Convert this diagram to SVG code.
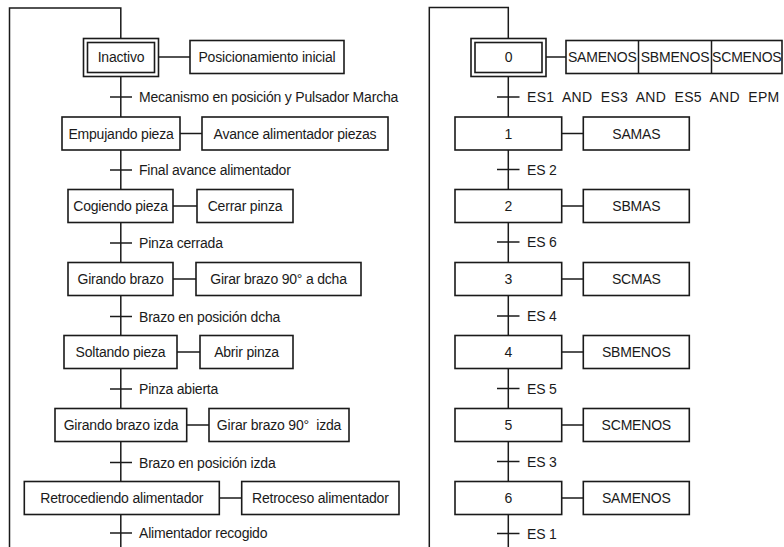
<svg xmlns="http://www.w3.org/2000/svg" width="784" height="547" viewBox="0 0 784 547">
  <style>
    .box { fill: #fff; stroke: #1a1a1a; stroke-width: 1.6; }
    .ln { fill: none; stroke: #1a1a1a; stroke-width: 1.5; }
    text { font-family: "Liberation Sans", Arial, sans-serif; font-size: 14px; fill: #1a1a1a; letter-spacing: -0.2px; }
    .c { text-anchor: middle; }
  </style>
  <rect width="784" height="547" fill="#fff"/>

  <!-- connectors: step chains, loop-backs, action links and transitions -->
  <g id="connectors">
    <!-- left chart -->
    <polyline class="ln" points="9.5,547 9.5,8 120.8,8 120.8,38.5"/>
    <line class="ln" x1="120.8" y1="76.5" x2="120.8" y2="547"/>
    <line class="ln" x1="158.5" y1="57" x2="190" y2="57"/>
    <line class="ln" x1="180" y1="133.5" x2="202" y2="133.5"/>
    <line class="ln" x1="173" y1="206" x2="197" y2="206"/>
    <line class="ln" x1="173" y1="279" x2="196" y2="279"/>
    <line class="ln" x1="177" y1="352" x2="200" y2="352"/>
    <line class="ln" x1="186.7" y1="425" x2="209" y2="425"/>
    <line class="ln" x1="219.3" y1="498" x2="241.7" y2="498"/>
    <line class="ln" x1="110" y1="97" x2="132" y2="97"/>
    <line class="ln" x1="110" y1="170" x2="132" y2="170"/>
    <line class="ln" x1="110" y1="243" x2="132" y2="243"/>
    <line class="ln" x1="110" y1="316.5" x2="132" y2="316.5"/>
    <line class="ln" x1="110" y1="389" x2="132" y2="389"/>
    <line class="ln" x1="110" y1="462.5" x2="132" y2="462.5"/>
    <line class="ln" x1="110" y1="533" x2="132" y2="533"/>
    <!-- right chart -->
    <polyline class="ln" points="429.3,547 429.3,7.5 508.3,7.5 508.3,38.5"/>
    <line class="ln" x1="508.3" y1="76.5" x2="508.3" y2="547"/>
    <line class="ln" x1="546" y1="57" x2="566" y2="57"/>
    <line class="ln" x1="561.7" y1="133.5" x2="583.3" y2="133.5"/>
    <line class="ln" x1="561.7" y1="206" x2="583.3" y2="206"/>
    <line class="ln" x1="561.7" y1="279" x2="583.3" y2="279"/>
    <line class="ln" x1="561.7" y1="352" x2="583.3" y2="352"/>
    <line class="ln" x1="561.7" y1="425" x2="583.3" y2="425"/>
    <line class="ln" x1="561.7" y1="498" x2="583.3" y2="498"/>
    <line class="ln" x1="497" y1="97" x2="519.5" y2="97"/>
    <line class="ln" x1="497" y1="169.5" x2="519.5" y2="169.5"/>
    <line class="ln" x1="497" y1="242" x2="519.5" y2="242"/>
    <line class="ln" x1="497" y1="316" x2="519.5" y2="316"/>
    <line class="ln" x1="497" y1="388.5" x2="519.5" y2="388.5"/>
    <line class="ln" x1="497" y1="461.5" x2="519.5" y2="461.5"/>
    <line class="ln" x1="497" y1="533.5" x2="519.5" y2="533.5"/>
  </g>

  <!-- transition conditions -->
  <g id="transitions">
    <text x="139" y="102">Mecanismo en posición y Pulsador Marcha</text>
    <text x="139" y="175">Final avance alimentador</text>
    <text x="139" y="248">Pinza cerrada</text>
    <text x="139" y="321.5">Brazo en posición dcha</text>
    <text x="139" y="394">Pinza abierta</text>
    <text x="139" y="467.5">Brazo en posición izda</text>
    <text x="139" y="538">Alimentador recogido</text>
    <text x="527" y="102" xml:space="preserve" textLength="252" lengthAdjust="spacing">ES1  AND  ES3  AND  ES5  AND  EPM</text>
    <text x="527" y="174.5">ES 2</text>
    <text x="527" y="247">ES 6</text>
    <text x="527" y="321">ES 4</text>
    <text x="527" y="393.5">ES 5</text>
    <text x="527" y="466.5">ES 3</text>
    <text x="527" y="538.5">ES 1</text>
  </g>

  <!-- left chart: steps -->
  <g id="step-inactivo">
    <rect class="box" x="83.5" y="38.5" width="75" height="38"/>
    <rect class="box" x="87.5" y="42.5" width="67" height="30"/>
    <text class="c" x="121" y="62">Inactivo</text>
  </g>
  <g id="step-empujando">
    <rect class="box" x="62" y="117" width="118" height="33"/>
    <text class="c" x="121" y="138.5">Empujando pieza</text>
  </g>
  <g id="step-cogiendo">
    <rect class="box" x="68" y="189.5" width="105" height="33"/>
    <text class="c" x="120.5" y="211">Cogiendo pieza</text>
  </g>
  <g id="step-girando">
    <rect class="box" x="68" y="262.5" width="105" height="33"/>
    <text class="c" x="120.5" y="284">Girando brazo</text>
  </g>
  <g id="step-soltando">
    <rect class="box" x="64" y="335.5" width="113" height="33"/>
    <text class="c" x="120.5" y="357">Soltando pieza</text>
  </g>
  <g id="step-girando-izda">
    <rect class="box" x="55" y="408.5" width="131.7" height="33"/>
    <text class="c" x="121" y="430">Girando brazo izda</text>
  </g>
  <g id="step-retrocediendo">
    <rect class="box" x="24.3" y="481.5" width="195" height="33"/>
    <text class="c" x="121.8" y="503">Retrocediendo alimentador</text>
  </g>

  <!-- left chart: actions -->
  <g id="act-posicionamiento">
    <rect class="box" x="190" y="40.5" width="154" height="33"/>
    <text class="c" x="267" y="62">Posicionamiento inicial</text>
  </g>
  <g id="act-avance">
    <rect class="box" x="202" y="117" width="186" height="33"/>
    <text class="c" x="295" y="138.5">Avance alimentador piezas</text>
  </g>
  <g id="act-cerrar">
    <rect class="box" x="197" y="189.5" width="96" height="33"/>
    <text class="c" x="245" y="211">Cerrar pinza</text>
  </g>
  <g id="act-girar-dcha">
    <rect class="box" x="196" y="262.5" width="165" height="33"/>
    <text class="c" x="278.5" y="284">Girar brazo 90° a dcha</text>
  </g>
  <g id="act-abrir">
    <rect class="box" x="200" y="335.5" width="93" height="33"/>
    <text class="c" x="246.5" y="357">Abrir pinza</text>
  </g>
  <g id="act-girar-izda">
    <rect class="box" x="209" y="408.5" width="140" height="33"/>
    <text class="c" x="279" y="430" xml:space="preserve">Girar brazo 90°  izda</text>
  </g>
  <g id="act-retroceso">
    <rect class="box" x="241.7" y="481.5" width="157.3" height="33"/>
    <text class="c" x="320.3" y="503">Retroceso alimentador</text>
  </g>

  <!-- right chart: steps -->
  <g id="step-0">
    <rect class="box" x="471" y="38.5" width="75" height="38"/>
    <rect class="box" x="475" y="42.5" width="67" height="30"/>
    <text class="c" x="508.5" y="62">0</text>
  </g>
  <g id="step-1">
    <rect class="box" x="455" y="117" width="106.7" height="33"/>
    <text class="c" x="508.3" y="138.5">1</text>
  </g>
  <g id="step-2">
    <rect class="box" x="455" y="189.5" width="106.7" height="33"/>
    <text class="c" x="508.3" y="211">2</text>
  </g>
  <g id="step-3">
    <rect class="box" x="455" y="262.5" width="106.7" height="33"/>
    <text class="c" x="508.3" y="284">3</text>
  </g>
  <g id="step-4">
    <rect class="box" x="455" y="335.5" width="106.7" height="33"/>
    <text class="c" x="508.3" y="357">4</text>
  </g>
  <g id="step-5">
    <rect class="box" x="455" y="408.5" width="106.7" height="33"/>
    <text class="c" x="508.3" y="430">5</text>
  </g>
  <g id="step-6">
    <rect class="box" x="455" y="481.5" width="106.7" height="33"/>
    <text class="c" x="508.3" y="503">6</text>
  </g>

  <!-- right chart: actions -->
  <g id="act-0">
    <rect class="box" x="566" y="40.5" width="216" height="33"/>
    <line class="ln" x1="638.5" y1="40.5" x2="638.5" y2="73.5"/>
    <line class="ln" x1="711.5" y1="40.5" x2="711.5" y2="73.5"/>
    <text class="c" x="602.3" y="62">SAMENOS</text>
    <text class="c" x="675" y="62">SBMENOS</text>
    <text class="c" x="746.8" y="62">SCMENOS</text>
  </g>
  <g id="act-1">
    <rect class="box" x="583.3" y="117" width="106" height="33"/>
    <text class="c" x="636.3" y="138.5">SAMAS</text>
  </g>
  <g id="act-2">
    <rect class="box" x="583.3" y="189.5" width="106" height="33"/>
    <text class="c" x="636.3" y="211">SBMAS</text>
  </g>
  <g id="act-3">
    <rect class="box" x="583.3" y="262.5" width="106" height="33"/>
    <text class="c" x="636.3" y="284">SCMAS</text>
  </g>
  <g id="act-4">
    <rect class="box" x="583.3" y="335.5" width="106" height="33"/>
    <text class="c" x="636.3" y="357">SBMENOS</text>
  </g>
  <g id="act-5">
    <rect class="box" x="583.3" y="408.5" width="106" height="33"/>
    <text class="c" x="636.3" y="430">SCMENOS</text>
  </g>
  <g id="act-6">
    <rect class="box" x="583.3" y="481.5" width="106" height="33"/>
    <text class="c" x="636.3" y="503">SAMENOS</text>
  </g>
</svg>
